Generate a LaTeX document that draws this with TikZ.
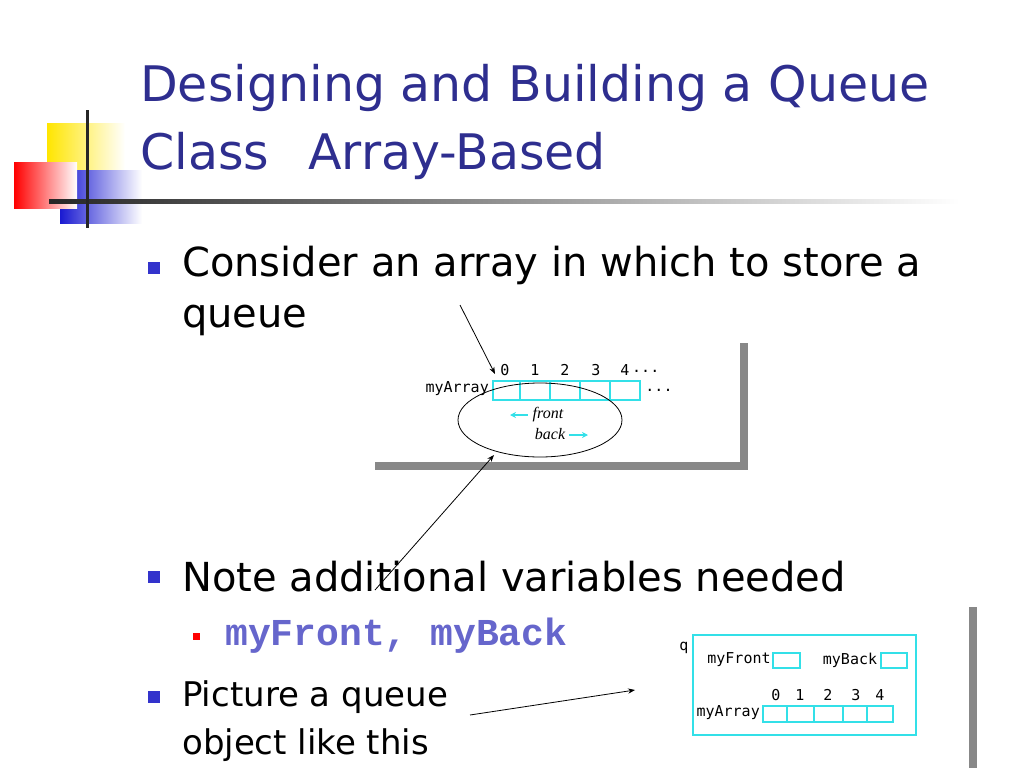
\documentclass[tikz,border=0pt]{standalone}
\usepackage{fontspec}
\setmainfont{DejaVu Sans}
\newfontfamily\monof{Liberation Mono}
\newfontfamily\dejam{DejaVu Sans Mono}
\newfontfamily\seriff{Liberation Serif}
\usetikzlibrary{shapes.geometric,arrows.meta}
\definecolor{titleblue}{HTML}{2E2E8F}
\definecolor{bulblue}{HTML}{3333CC}
\definecolor{cyanl}{HTML}{33E0E8}
\definecolor{codeblue}{HTML}{6666CC}
\definecolor{shadowg}{HTML}{888888}
\tikzset{
 title/.style={anchor=west,text=titleblue,font=\fontsize{49}{49}\selectfont,inner sep=0},
 body/.style={anchor=west,font=\fontsize{40}{40}\selectfont,inner sep=0},
 bodys/.style={anchor=west,font=\fontsize{34}{34}\selectfont,inner sep=0},
 sq/.style={fill=bulblue,draw=none},
 cell/.style={draw=cyanl,line width=1.2pt},
 small/.style={font=\dejam\fontsize{15}{15}\selectfont,inner sep=0},
 arr/.style={-{Stealth[length=7pt]},line width=0.8pt},
 carr/.style={cyanl,-{Stealth[length=6pt,width=6pt]},line width=1.5pt},
}
\begin{document}
\begin{tikzpicture}[x=1pt,y=-1pt]
\useasboundingbox (0,0) rectangle (1024,768);
% logo
\shade[left color=yellow!80!orange,right color=white] (47,123) rectangle (125,172);
\shade[left color=blue!80!black!90,right color=white] (60,170) rectangle (142,223);
\shade[shading angle=225,left color=red,right color=white] (14,162) rectangle (77,208);
\shade[left color=black!85,right color=white] (49,199) rectangle (960,203);
\draw[line width=3pt,black!85] (87,110) -- (87,228);
% title
\node[title] (t1) at (140,88) {Designing and Building a Queue};
\node[title] (t2) at (140,156) {Class\hspace{0.8em}Array-Based};
% bullets
\fill[sq] (148,262) rectangle (160,274);
\node[body] (b1) at (182,265) {Consider an array in which to store a};
\node[body] (b1b) at (182,320) {queue};
\fill[sq] (148,571) rectangle (160,583);
\node[body] (b2) at (182,577) {Note additional variables needed};
\fill[red] (193,633) rectangle (200,640);
\node[anchor=west,inner sep=0,text=codeblue,font=\monof\bfseries\fontsize{38}{38}\selectfont] (code) at (225,636) {myFront, myBack};
\fill[sq] (148,691) rectangle (160,703);
\node[bodys] (b3) at (182,697) {Picture a queue};
\node[bodys] (b3b) at (182,745) {object like this};
% first picture frame
\fill[shadowg] (740,343) rectangle (748,470);
\fill[shadowg] (375,462) rectangle (748,470);
\foreach \a/\b [count=\i] in {493/520,520/550,550/580,580/610,610/640}
  \draw[cell] (\a,381) rectangle (\b,400);
\coordinate (c0) at (495,374);
\node[small,anchor=east] (ma) at (489,389) {myArray};
\foreach \x/\t in {505/0,535/1,565/2,596/3,625/4}
  \node[small] at (\x,370) {\t};
\node[small,anchor=west] at (632,371) {...};
\node[small] at (659,390) {...};
\node[draw,ellipse,minimum width=164pt,minimum height=74pt,line width=0.8pt] (ell) at (540,420) {};
\node[inner sep=0,font=\seriff\itshape\fontsize{16}{16}\selectfont] (fr) at (548,415) {front};
\coordinate (fa) at (528,415); \coordinate (fb) at (510,415);
\draw[carr] (fa) -- (fb);
\node[inner sep=0,font=\seriff\itshape\fontsize{16}{16}\selectfont] (bk) at (550,434) {back};
\coordinate (ba) at (569,435); \coordinate (bb) at (588,435);
\draw[carr] (ba) -- (bb);
\coordinate (s1) at (460,305);
\draw[arr] (s1) -- (c0);
\coordinate (s2) at (375,590);
\coordinate (e2) at (494,455);
\draw[arr] (s2) -- (e2);
% second picture
\fill[shadowg] (969,607) rectangle (977,768);
\node[small] (q) at (684,648) {q};
\draw[cell] (693,635) rectangle (916,735);
\node[small] (mf) at (739,660) {myFront};
\draw[cell] (773,653) rectangle (800,668);
\node[small] (mb) at (850,660) {myBack};
\draw[cell] (881,653) rectangle (907,668);
\foreach \x/\t in {776/0,800/1,828/2,856/3,880/4}
  \node[small] at (\x,695) {\t};
\foreach \a/\b in {763/787,787/814,814/843,843/867,867/893}
  \draw[cell] (\a,706) rectangle (\b,722);
\node[small,anchor=east] (ma2) at (760,713) {myArray};
\coordinate (s3) at (470,715);
\coordinate (e3) at (635,690);
\draw[arr] (s3) -- (e3);
\end{tikzpicture}
\end{document}
